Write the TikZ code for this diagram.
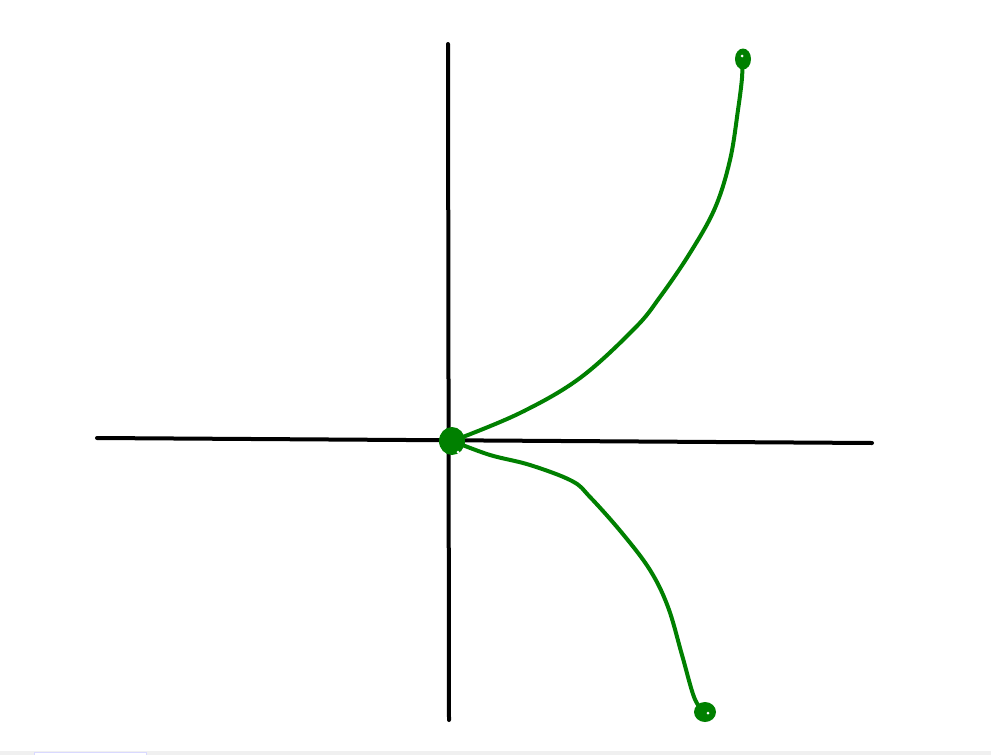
\documentclass[tikz,border=0pt]{standalone}
\begin{document}
\begin{tikzpicture}[x=1pt,y=-1pt,
  axis/.style={line width=4pt,black,line cap=round},
  curve/.style={line width=4pt,color=sketchgreen,line cap=round,line join=round},
  blob/.style={fill=sketchgreen}]
\definecolor{sketchgreen}{HTML}{008000}
\useasboundingbox (0,0) rectangle (991,755);
\fill[white] (0,0) rectangle (991,755);
\fill[gray!12] (0,751) rectangle (991,755);
\draw[line width=0.8pt,draw=blue!15,fill=white] (34,755) -- (34,752) -- (146,752) -- (146,755);
% axes
\coordinate (xl) at (97,438);
\coordinate (xr) at (872,443);
\coordinate (yt) at (448,44);
\coordinate (yb) at (449,720);
\coordinate (o) at (452,441);
\coordinate (p) at (743,59);
\coordinate (q) at (705,712);
\draw[axis] (xl) -- (xr);
\draw[axis] (yt) -- (yb);
% curves
\draw[curve] plot[smooth,tension=0.6] coordinates {(455,440) (520,413) (580,378) (635,328) (660,297) (690,253) (715,208) (730,160) (738,110) (742,78) (742,64)};
\draw[curve] plot[smooth,tension=0.6] coordinates {(455,442) (490,455) (530,465) (572,481) (590,497) (622,533) (650,570) (668,607) (682,655) (694,697) (703,711)};
% blobs
\fill[blob] (o) ellipse (13 and 14);
\fill[blob] (p) ellipse (8 and 10.5);
\fill[blob] (q) ellipse (11 and 10);
\fill[white] (458,452) circle (1.5);
\fill[white] (742,56) circle (1.5);
\fill[white] (708,713) circle (1.5);
\end{tikzpicture}
\end{document}
